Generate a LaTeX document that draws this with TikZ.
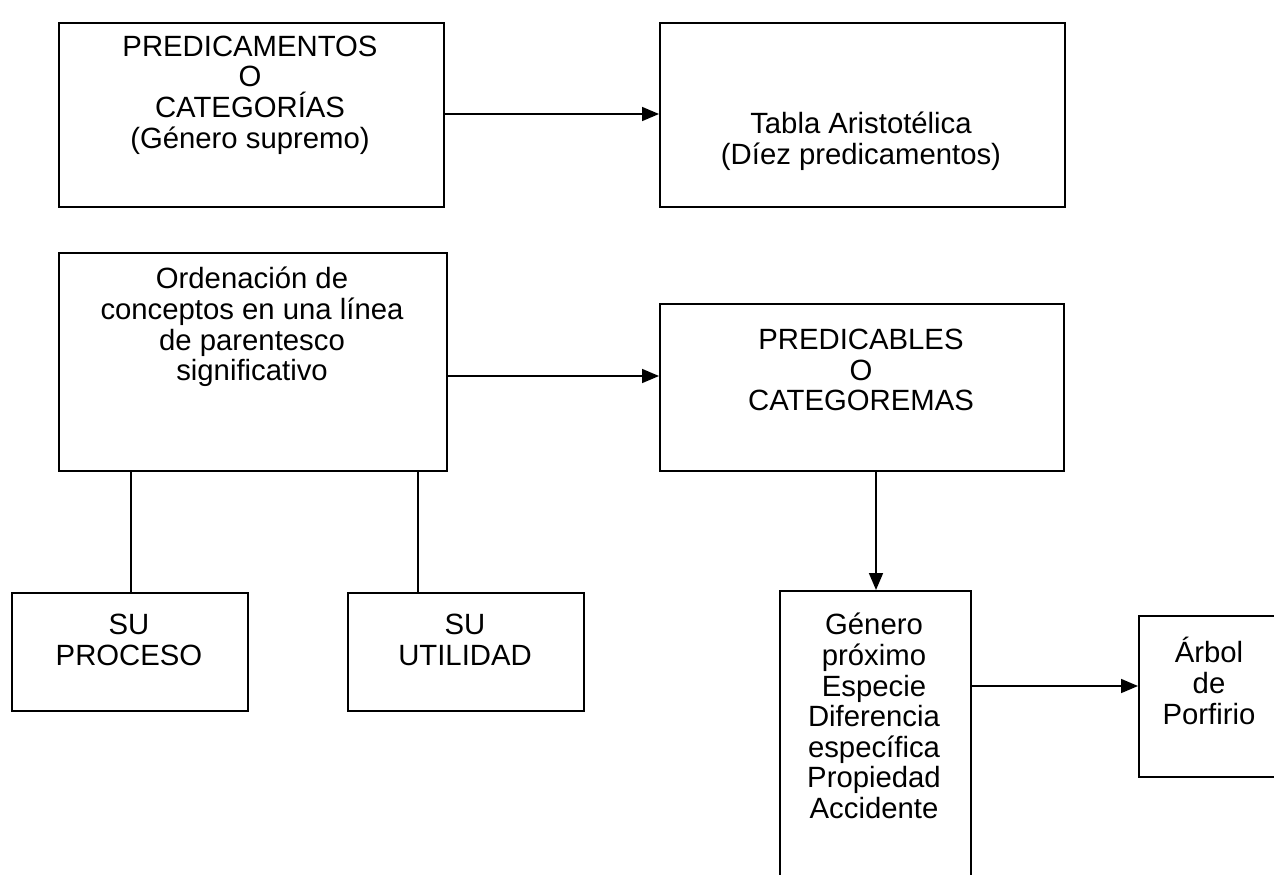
\documentclass[tikz,border=0pt]{standalone}
\usepackage{fontspec}
\setmainfont{Liberation Sans}
\usetikzlibrary{arrows.meta,calc}
\begin{document}
\begin{tikzpicture}[x=1pt,y=-1pt,
  box/.style={draw,line width=1.7pt,minimum width=0pt,minimum height=0pt,inner sep=0pt,anchor=north west},
  txt/.style={align=center,inner sep=0pt,font=\fontsize{29.3}{30.6}\selectfont},
  conn/.style={line width=1.7pt},
  arr/.style={line width=1.7pt,-{Triangle[length=17pt,width=14pt]}}]
\useasboundingbox (0,0) rectangle (1274,875);
\clip (0,0) rectangle (1274,875);
% boxes
\node[box,minimum width=385pt,minimum height=184pt] (A) at (58,22) {};
\node[box,minimum width=405pt,minimum height=184pt] (B) at (659,22) {};
\node[box,minimum width=388pt,minimum height=218pt] (C) at (58,252) {};
\node[box,minimum width=404pt,minimum height=167pt] (D) at (659,303) {};
\node[box,minimum width=236pt,minimum height=118pt] (P) at (11,592) {};
\node[box,minimum width=236pt,minimum height=118pt] (U) at (347,592) {};
\node[box,minimum width=191pt,minimum height=320pt] (G) at (779,590) {};
\node[box,minimum width=160pt,minimum height=161pt] (R) at (1138,615) {};
% texts
\node[txt] (tA) at (250,95) {PREDICAMENTOS\\O\\CATEGORÍAS\\(Género supremo)};
\node[txt] (tB) at (861,141.5) {Tabla Aristotélica\\(Díez predicamentos)};
\node[txt] (tC) at (252,327) {Ordenación de\\conceptos en una línea\\de parentesco\\significativo};
\node[txt] (tD) at (861,370) {PREDICABLES\\O\\CATEGOREMAS};
\node[txt] (tP) at (129,640) {SU\\PROCESO};
\node[txt] (tU) at (465,640) {SU\\UTILIDAD};
\node[txt] (tG) at (874,716) {Género\\próximo\\Especie\\Diferencia\\específica\\Propiedad\\Accidente};
\node[txt] (tR) at (1209,681) {Árbol\\de\\Porfirio};
% connectors
\coordinate (a1) at (443,114);
\draw[arr] (a1) -- (a1 -| B.west);
\coordinate (c1) at (446,376);
\draw[arr] (c1) -- (c1 -| D.west);
\coordinate (p1) at (131,470);
\draw[conn] (p1) -- (p1 |- P.north);
\coordinate (u1) at (418,470);
\draw[conn] (u1) -- (u1 |- U.north);
\coordinate (d1) at (876,470);
\draw[arr] (d1) -- (d1 |- G.north);
\coordinate (g1) at (970,686);
\draw[arr] (g1) -- (g1 -| R.west);
\end{tikzpicture}
\end{document}
